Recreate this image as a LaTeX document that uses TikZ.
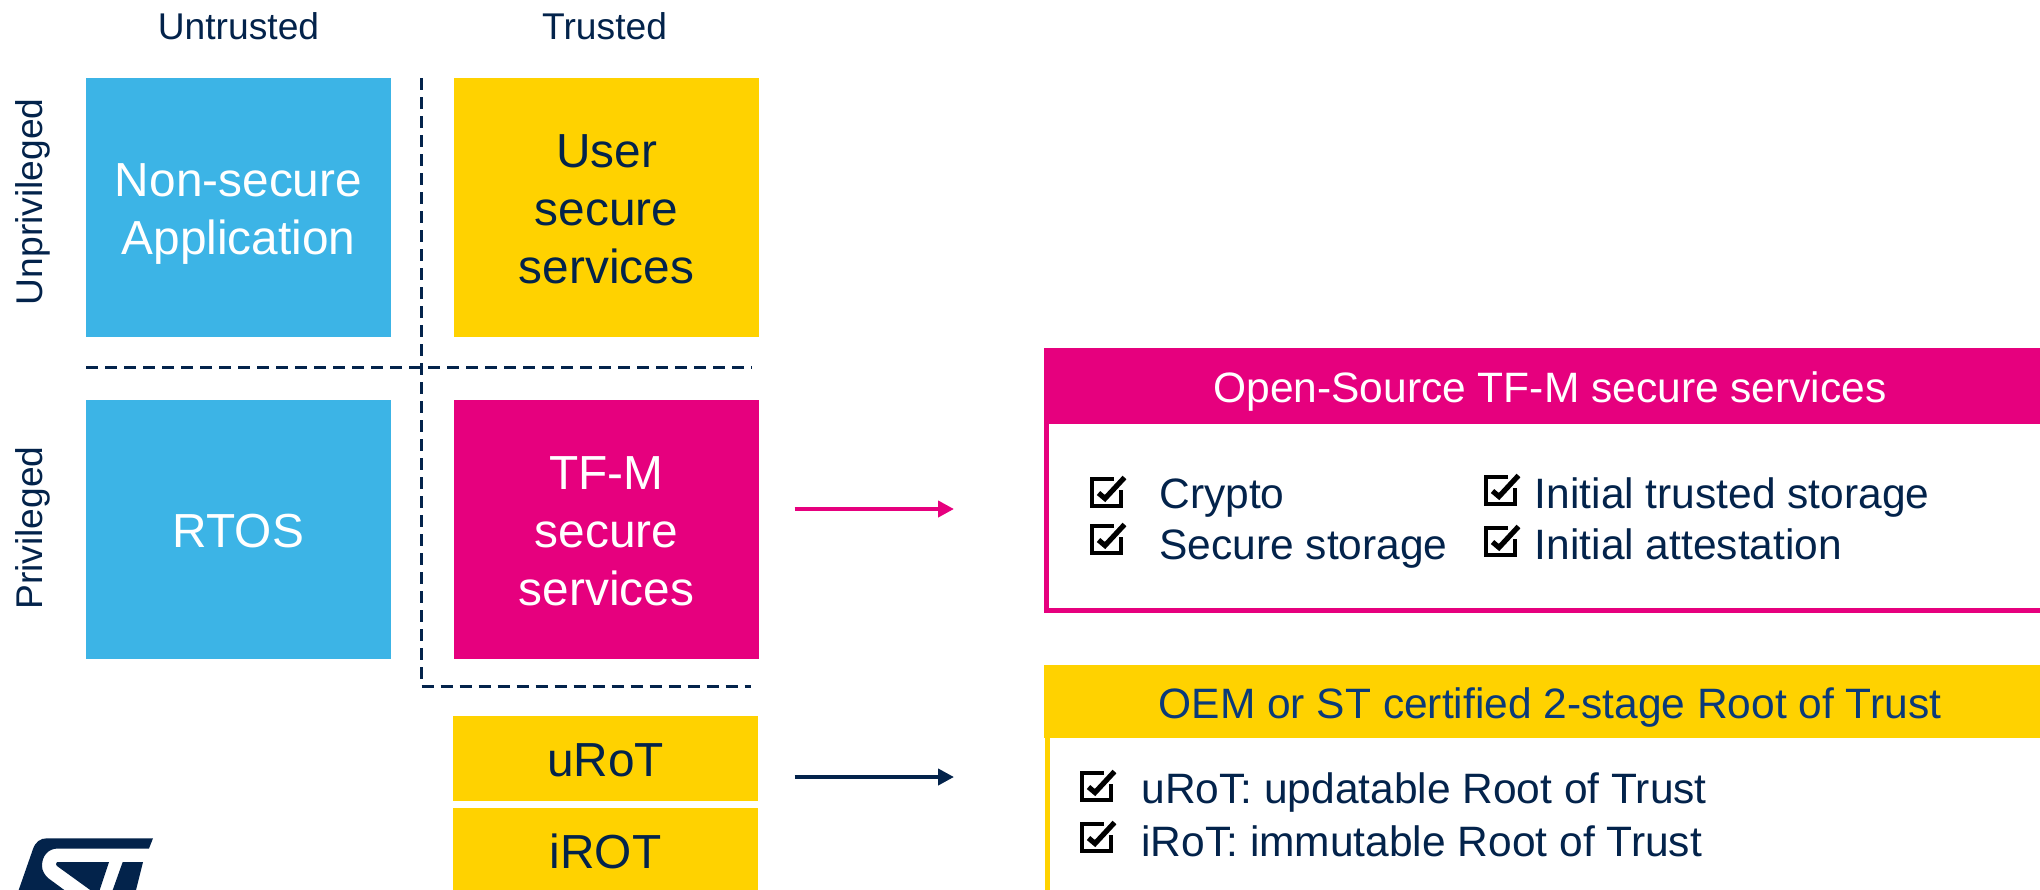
\documentclass[tikz,border=0pt]{standalone}
\usepackage{fontspec}
\setmainfont{Liberation Sans}
\usetikzlibrary{arrows.meta}
\definecolor{stnavy}{HTML}{03234B}
\definecolor{stpink}{HTML}{E6007E}
\definecolor{styellow}{HTML}{FFD200}
\definecolor{stblue}{HTML}{3CB4E6}
\definecolor{oemblue}{HTML}{0A3A7A}
\newcommand{\bs}{\rule[-5pt]{0pt}{27.5pt}}
\newcommand{\hs}{\rule[-3pt]{0pt}{24.3pt}}
\tikzset{
  bigtext/.style={font=\fontsize{23.9pt}{29pt}\selectfont, align=center},
  tile/.style={bigtext, inner sep=0pt, outer sep=0pt, minimum width=152.5pt},
  tall/.style={tile, minimum height=129.5pt},
  sidetext/.style={font=\fontsize{18.6pt}{22pt}\selectfont, text=stnavy, inner sep=0pt},
  itemtext/.style={font=\fontsize{21.25pt}{25pt}\selectfont, text=stnavy, inner sep=0pt, anchor=base west},
  headtext/.style={font=\fontsize{21.25pt}{25pt}\selectfont, inner sep=0pt, outer sep=0pt, minimum width=506pt},
  divider/.style={stnavy, line width=1.5pt, dash pattern=on 6pt off 3.5pt},
  link/.style={line width=2pt, -{Triangle[length=8pt,width=8pt]}},
  chk/.pic={
    \draw[black, line width=2.2pt] (24,2.2) -- (2.2,2.2) -- (2.2,29) -- (31,29) -- (31,13);
    \draw[black, line width=2.6pt] (8.5,16) -- (15,21.5) -- (34.5,0.5);
  }
}
\begin{document}
\begin{tikzpicture}[x=0.5pt,y=-0.5pt]
\path[use as bounding box, clip] (0,0) rectangle (2040,889);
\fill[white] (0,0) rectangle (2040,889);

% column and row captions
\node[sidetext, anchor=base] (untrusted) at (238.5,39) {Untrusted};
\node[sidetext, anchor=base] (trusted) at (604.6,39) {Trusted};
\node[sidetext, anchor=base, rotate=90] (unpriv) at (42,201.7) {Unprivileged};
\node[sidetext, anchor=base, rotate=90] (priv) at (42,528) {Privileged};

% tiles
\node[tall, fill=stblue, text=white] (nsapp) at (238.5,207.5) {\bs Non-secure\\\bs Application};
\node[tall, fill=styellow, text=stnavy] (user) at (606.5,207.5) {\bs User\\\bs secure\\\bs services};
\node[tall, fill=stblue, text=white] (rtos) at (238.5,529.5) {\bs RTOS};
\node[tall, fill=stpink, text=white] (tfm) at (606.5,529.5) {\bs TF-M\\\bs secure\\\bs services};
\node[tile, minimum height=42.5pt, fill=styellow, text=stnavy] (urot) at (605.5,758.5) {\bs uRoT};
\node[tile, minimum height=42.5pt, fill=styellow, text=stnavy] (irot) at (605.5,850.5) {\bs iROT};

% dashed dividers
\coordinate (vtop) at (421.5,78);
\coordinate (corner) at (421.5,686);
\coordinate (vend) at (751,686);
\coordinate (hleft) at (86,367);
\coordinate (hright) at (752,367);
\draw[divider] (vtop) -- (corner) -- (vend);
\draw[divider] (hleft) -- (hright);

% arrows
\coordinate (pinkfrom) at (794.5,509);
\coordinate (pinkto) at (954,509);
\coordinate (navyfrom) at (794.5,777);
\coordinate (navyto) at (954,777);
\draw[link, stpink] (pinkfrom) -- (pinkto);
\draw[link, stnavy] (navyfrom) -- (navyto);

% panel 1
\node[draw=stpink, line width=2.5pt, fill=white, inner sep=0pt, minimum width=503.5pt, minimum height=130pt] (panelone) at (1550,480.5) {};
\node[headtext, fill=stpink, text=white, minimum height=38pt] (headone) at (1550,386) {\hs Open-Source TF-M secure services};
\node[itemtext] (crypto) at (1159,508) {Crypto};
\node[itemtext] (secstore) at (1159,559) {Secure storage};
\node[itemtext] (initstore) at (1534.5,508) {Initial trusted storage};
\node[itemtext] (initatt) at (1534.5,559) {Initial attestation};
\pic at (1090,477) {chk};
\pic at (1090,524) {chk};
\pic at (1484,475) {chk};
\pic at (1484,526) {chk};

% panel 2
\node[draw=styellow, line width=2.5pt, fill=white, inner sep=0pt, minimum width=503.5pt, minimum height=130pt] (paneltwo) at (1551,800) {};
\node[headtext, fill=styellow, text=oemblue, minimum height=36.5pt] (headtwo) at (1550,701.5) {\hs OEM or ST certified 2-stage Root of Trust};
\node[itemtext] (urotitem) at (1141,803) {uRoT: updatable Root of Trust};
\node[itemtext] (irotitem) at (1141,856) {iRoT: immutable Root of Trust};
\pic at (1080,771) {chk};
\pic at (1080,822) {chk};

% logo
\fill[stnavy] (18,892) -- (33,849) .. controls (35.5,842) and (40,838.3) .. (47,838.3) -- (153,838.3) -- (149,848.5) -- (58,848.5)
  .. controls (48,848.5) and (42,856) .. (42,866) .. controls (42,871) and (45,875) .. (48,878) -- (67,892) -- cycle;
\fill[stnavy] (56,864) -- (57,862) -- (109,862) -- (99,892) -- (93,892) -- (57,866) -- cycle;
\fill[stnavy] (122.7,862) -- (143,862) -- (135.5,892) -- (112,892) -- cycle;
\end{tikzpicture}
\end{document}
